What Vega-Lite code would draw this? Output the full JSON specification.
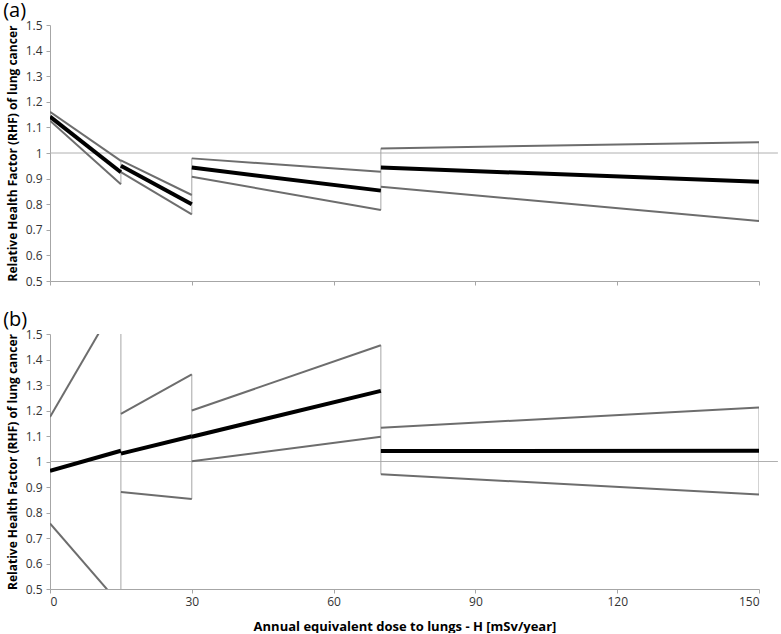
{
  "$schema": "https://vega.github.io/schema/vega-lite/v6.json",
  "background": "white",
  "padding": {"left": 3, "top": 1, "right": 0, "bottom": 0},
  "spacing": 23,
  "config": {
    "font": "Open Sans",
    "view": {"stroke": null},
    "axis": {
      "labelFont": "Open Sans", "labelFontSize": 12, "labelColor": "#333333", "labelOverlap": false,
      "titleFont": "Open Sans", "titleFontSize": 12, "titleFontWeight": "bold", "titleColor": "#000000",
      "domainColor": "#a6a6a6", "tickColor": "#a6a6a6", "tickSize": 4, "grid": false
    },
    "axisY": {"tickCount": 11, "format": ".1~f", "labelOverlap": false, "titlePadding": 6, "labelPadding": 4},
    "axisX": {"labelPadding": 3},
    "title": {"anchor": "start", "frame": "bounds", "fontSize": 20, "fontWeight": "normal", "font": "Open Sans", "offset": -2, "color": "#000000"}
  },
  "datasets": {
    "ref": [
      {"panel": "a", "x": 0, "x2": 154, "y": 1},
      {"panel": "b", "x": 0, "x2": 154, "y": 1}
    ],
    "conn": [
      {"panel": "a", "x": 15, "lo": 0.878, "hi": 0.971},
      {"panel": "a", "x": 30, "lo": 0.76, "hi": 0.979},
      {"panel": "a", "x": 70, "lo": 0.777, "hi": 1.018},
      {"panel": "a", "x": 150, "lo": 0.734, "hi": 1.042},
      {"panel": "b", "x": 15, "lo": 0.436, "hi": 1.652},
      {"panel": "b", "x": 30, "lo": 0.853, "hi": 1.342},
      {"panel": "b", "x": 70, "lo": 0.95, "hi": 1.456},
      {"panel": "b", "x": 150, "lo": 0.871, "hi": 1.212}
    ],
    "lines": [
      {"panel": "a", "seg": 1, "series": "lo", "x": 0, "y": 1.126},
      {"panel": "a", "seg": 1, "series": "lo", "x": 15, "y": 0.878},
      {"panel": "a", "seg": 1, "series": "mid", "x": 0, "y": 1.142},
      {"panel": "a", "seg": 1, "series": "mid", "x": 15, "y": 0.925},
      {"panel": "a", "seg": 1, "series": "hi", "x": 0, "y": 1.161},
      {"panel": "a", "seg": 1, "series": "hi", "x": 15, "y": 0.969},
      {"panel": "a", "seg": 2, "series": "lo", "x": 15, "y": 0.925},
      {"panel": "a", "seg": 2, "series": "lo", "x": 30, "y": 0.76},
      {"panel": "a", "seg": 2, "series": "mid", "x": 15, "y": 0.95},
      {"panel": "a", "seg": 2, "series": "mid", "x": 30, "y": 0.8},
      {"panel": "a", "seg": 2, "series": "hi", "x": 15, "y": 0.971},
      {"panel": "a", "seg": 2, "series": "hi", "x": 30, "y": 0.836},
      {"panel": "a", "seg": 3, "series": "lo", "x": 30, "y": 0.907},
      {"panel": "a", "seg": 3, "series": "lo", "x": 70, "y": 0.777},
      {"panel": "a", "seg": 3, "series": "mid", "x": 30, "y": 0.943},
      {"panel": "a", "seg": 3, "series": "mid", "x": 70, "y": 0.853},
      {"panel": "a", "seg": 3, "series": "hi", "x": 30, "y": 0.979},
      {"panel": "a", "seg": 3, "series": "hi", "x": 70, "y": 0.927},
      {"panel": "a", "seg": 4, "series": "lo", "x": 70, "y": 0.868},
      {"panel": "a", "seg": 4, "series": "lo", "x": 150, "y": 0.734},
      {"panel": "a", "seg": 4, "series": "mid", "x": 70, "y": 0.943},
      {"panel": "a", "seg": 4, "series": "mid", "x": 150, "y": 0.888},
      {"panel": "a", "seg": 4, "series": "hi", "x": 70, "y": 1.018},
      {"panel": "a", "seg": 4, "series": "hi", "x": 150, "y": 1.042},
      {"panel": "b", "seg": 1, "series": "lo", "x": 0, "y": 0.757},
      {"panel": "b", "seg": 1, "series": "lo", "x": 15, "y": 0.436},
      {"panel": "b", "seg": 1, "series": "mid", "x": 0, "y": 0.963},
      {"panel": "b", "seg": 1, "series": "mid", "x": 15, "y": 1.042},
      {"panel": "b", "seg": 1, "series": "hi", "x": 0, "y": 1.175},
      {"panel": "b", "seg": 1, "series": "hi", "x": 15, "y": 1.652},
      {"panel": "b", "seg": 2, "series": "lo", "x": 15, "y": 0.88},
      {"panel": "b", "seg": 2, "series": "lo", "x": 30, "y": 0.853},
      {"panel": "b", "seg": 2, "series": "mid", "x": 15, "y": 1.031},
      {"panel": "b", "seg": 2, "series": "mid", "x": 30, "y": 1.099},
      {"panel": "b", "seg": 2, "series": "hi", "x": 15, "y": 1.187},
      {"panel": "b", "seg": 2, "series": "hi", "x": 30, "y": 1.342},
      {"panel": "b", "seg": 3, "series": "lo", "x": 30, "y": 1.001},
      {"panel": "b", "seg": 3, "series": "lo", "x": 70, "y": 1.097},
      {"panel": "b", "seg": 3, "series": "mid", "x": 30, "y": 1.097},
      {"panel": "b", "seg": 3, "series": "mid", "x": 70, "y": 1.277},
      {"panel": "b", "seg": 3, "series": "hi", "x": 30, "y": 1.2},
      {"panel": "b", "seg": 3, "series": "hi", "x": 70, "y": 1.456},
      {"panel": "b", "seg": 4, "series": "lo", "x": 70, "y": 0.95},
      {"panel": "b", "seg": 4, "series": "lo", "x": 150, "y": 0.871},
      {"panel": "b", "seg": 4, "series": "mid", "x": 70, "y": 1.041},
      {"panel": "b", "seg": 4, "series": "mid", "x": 150, "y": 1.042},
      {"panel": "b", "seg": 4, "series": "hi", "x": 70, "y": 1.132},
      {"panel": "b", "seg": 4, "series": "hi", "x": 150, "y": 1.212}
    ]
  },
  "vconcat": [
    {
      "title": {"text": "(a)", "dx": -3},
      "width": 709,
      "height": 256,
      "layer": [
        {
          "data": {"name": "ref"},
          "transform": [{"filter": "datum.panel == 'a'"}],
          "mark": {"type": "rule", "color": "#b0b0b0", "strokeWidth": 1},
          "encoding": {
            "x": {"field": "x", "type": "quantitative", "scale": {"domain": [0, 150], "nice": false},
                  "axis": {"values": [0, 30, 60, 90, 120, 150], "labels": false, "title": null}},
            "x2": {"field": "x2"},
            "y": {"field": "y", "type": "quantitative", "scale": {"domain": [0.5, 1.5], "nice": false, "zero": false},
                  "axis": {"title": "Relative Health Factor (RHF) of lung cancer"}}
          }
        },
        {
          "data": {"name": "conn"},
          "transform": [{"filter": "datum.panel == 'a'"}],
          "mark": {"type": "rule", "color": "#a6a6a6", "strokeWidth": 1, "clip": true},
          "encoding": {
            "x": {"field": "x", "type": "quantitative"},
            "y": {"field": "lo", "type": "quantitative"},
            "y2": {"field": "hi"}
          }
        },
        {
          "data": {"name": "lines"},
          "transform": [{"filter": "datum.panel == 'a' && datum.series != 'mid'"}],
          "mark": {"type": "line", "color": "#6d6d6d", "strokeWidth": 2, "clip": true},
          "encoding": {
            "x": {"field": "x", "type": "quantitative"},
            "y": {"field": "y", "type": "quantitative"},
            "detail": [{"field": "seg"}, {"field": "series"}]
          }
        },
        {
          "data": {"name": "lines"},
          "transform": [{"filter": "datum.panel == 'a' && datum.series == 'mid'"}],
          "mark": {"type": "line", "color": "#000000", "strokeWidth": 4, "clip": true},
          "encoding": {
            "x": {"field": "x", "type": "quantitative"},
            "y": {"field": "y", "type": "quantitative"},
            "detail": {"field": "seg"}
          }
        }
      ]
    },
    {
      "title": {"text": "(b)", "dx": -3},
      "width": 709,
      "height": 255,
      "layer": [
        {
          "data": {"name": "ref"},
          "transform": [{"filter": "datum.panel == 'b'"}],
          "mark": {"type": "rule", "color": "#b0b0b0", "strokeWidth": 1},
          "encoding": {
            "x": {"field": "x", "type": "quantitative", "scale": {"domain": [0, 150], "nice": false},
                  "axis": {"values": [0, 30, 60, 90, 120, 150], "title": "Annual equivalent dose to lungs - H [mSv/year]", "titleFontSize": 13, "titlePadding": 13}},
            "x2": {"field": "x2"},
            "y": {"field": "y", "type": "quantitative", "scale": {"domain": [0.5, 1.5], "nice": false, "zero": false},
                  "axis": {"title": "Relative Health Factor (RHF) of lung cancer"}}
          }
        },
        {
          "data": {"name": "conn"},
          "transform": [{"filter": "datum.panel == 'b'"}],
          "mark": {"type": "rule", "color": "#a6a6a6", "strokeWidth": 1, "clip": true},
          "encoding": {
            "x": {"field": "x", "type": "quantitative"},
            "y": {"field": "lo", "type": "quantitative"},
            "y2": {"field": "hi"}
          }
        },
        {
          "data": {"name": "lines"},
          "transform": [{"filter": "datum.panel == 'b' && datum.series != 'mid'"}],
          "mark": {"type": "line", "color": "#6d6d6d", "strokeWidth": 2, "clip": true},
          "encoding": {
            "x": {"field": "x", "type": "quantitative"},
            "y": {"field": "y", "type": "quantitative"},
            "detail": [{"field": "seg"}, {"field": "series"}]
          }
        },
        {
          "data": {"name": "lines"},
          "transform": [{"filter": "datum.panel == 'b' && datum.series == 'mid'"}],
          "mark": {"type": "line", "color": "#000000", "strokeWidth": 4, "clip": true},
          "encoding": {
            "x": {"field": "x", "type": "quantitative"},
            "y": {"field": "y", "type": "quantitative"},
            "detail": {"field": "seg"}
          }
        }
      ]
    }
  ]
}
